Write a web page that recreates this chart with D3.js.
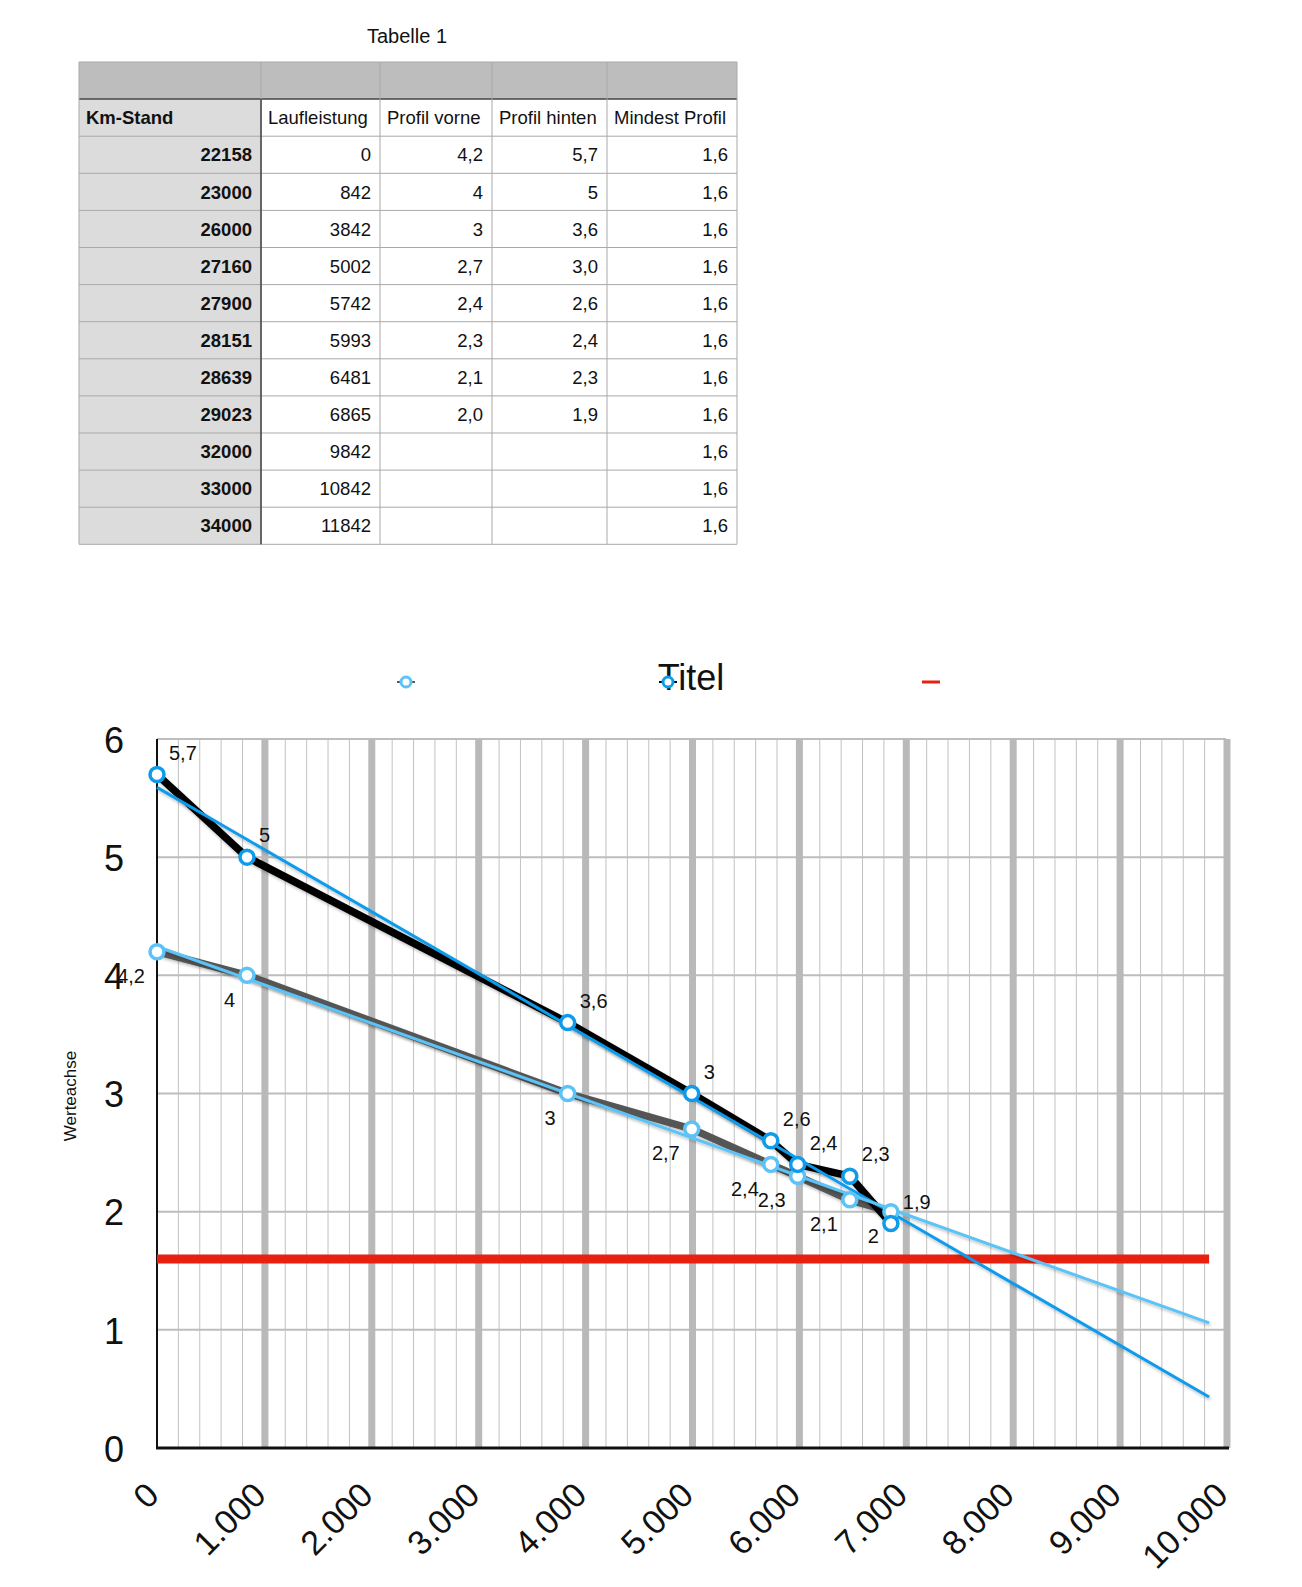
<!DOCTYPE html>
<html>
<head>
<meta charset="utf-8">
<script src="https://cdn.jsdelivr.net/npm/d3@7"></script>
<style>
  body { margin: 0; background: #fff; }
  svg { display: block; font-family: "Liberation Sans", Arial, sans-serif; }
</style>
</head>
<body>
<div id="chart"></div>
<script>
// table columns, as shown in "Tabelle 1"
var kmStand = [22158, 23000, 26000, 27160, 27900, 28151, 28639, 29023, 32000, 33000, 34000];
var laufleistung = [0, 842, 3842, 5002, 5742, 5993, 6481, 6865, 9842, 10842, 11842];
var profilVorne = ["4,2", "4", "3", "2,7", "2,4", "2,3", "2,1", "2,0", "", "", ""];
var profilHinten = ["5,7", "5", "3,6", "3,0", "2,6", "2,4", "2,3", "1,9", "", "", ""];
var mindestProfil = ["1,6", "1,6", "1,6", "1,6", "1,6", "1,6", "1,6", "1,6", "1,6", "1,6", "1,6"];
var headers = ["Km-Stand", "Laufleistung", "Profil vorne", "Profil hinten", "Mindest Profil"];

// axes
var xTicks = [0, 1000, 2000, 3000, 4000, 5000, 6000, 7000, 8000, 9000, 10000];
var yTicks = [0, 1, 2, 3, 4, 5, 6];

var W = 1302, H = 1587;
var svg = d3.select("#chart").append("svg").attr("width", W).attr("height", H);

var de = d3.formatLocale({ decimal: ",", thousands: ".", grouping: [3], currency: ["", "€"] });
var fmtThousand = de.format(",");
function num(s) { return s === "" ? null : +s.replace(",", "."); }
function lbl(v) { return String(v).replace(".", ","); }

// ---------- table ----------
var colX = [79, 261, 380, 492, 607, 737];
var rowTop = 62, rowH = 37.1;
var tbl = svg.append("g");

tbl.append("text").attr("x", 407).attr("y", 43).attr("text-anchor", "middle")
    .attr("font-size", 20).attr("fill", "#111").text("Tabelle 1");

// top grey band
tbl.append("rect").attr("x", colX[0]).attr("y", rowTop).attr("width", colX[5] - colX[0]).attr("height", rowH)
    .attr("fill", "#bdbdbd");
// first column light grey
tbl.append("rect").attr("x", colX[0]).attr("y", rowTop + rowH).attr("width", colX[1] - colX[0])
    .attr("height", rowH * (kmStand.length + 1)).attr("fill", "#dcdcdc");

var nRows = kmStand.length + 2;
for (var r = 0; r <= nRows; r++) {
    tbl.append("line").attr("x1", colX[0]).attr("x2", colX[5])
        .attr("y1", rowTop + r * rowH).attr("y2", rowTop + r * rowH)
        .attr("stroke", r === 1 ? "#444" : "#a9a9a9").attr("stroke-width", r === 1 ? 1.5 : 1);
}
colX.forEach(function (cx) {
    tbl.append("line").attr("x1", cx).attr("x2", cx)
        .attr("y1", rowTop).attr("y2", rowTop + nRows * rowH)
        .attr("stroke", "#a9a9a9").attr("stroke-width", 1);
});
tbl.append("line").attr("x1", colX[1]).attr("x2", colX[1])
    .attr("y1", rowTop + rowH).attr("y2", rowTop + nRows * rowH)
    .attr("stroke", "#444").attr("stroke-width", 1.5);

headers.forEach(function (h, i) {
    tbl.append("text").attr("x", colX[i] + 7).attr("y", rowTop + rowH * 1.5).attr("dy", "0.36em")
        .attr("font-size", 18.5).attr("font-weight", i === 0 ? "bold" : "normal").attr("fill", "#111").text(h);
});

var cols = [kmStand, laufleistung, profilVorne, profilHinten, mindestProfil];
kmStand.forEach(function (k, r) {
    cols.forEach(function (c, i) {
        tbl.append("text").attr("x", colX[i + 1] - 9).attr("y", rowTop + rowH * (r + 2.5)).attr("dy", "0.36em")
            .attr("text-anchor", "end").attr("font-size", 18.5)
            .attr("font-weight", i === 0 ? "bold" : "normal").attr("fill", "#111")
            .text(c[r]);
    });
});

// ---------- chart ----------
var x = d3.scaleLinear().domain([0, 10000]).range([157, 1226]);
var y = d3.scaleLinear().domain([0, 6]).range([1448, 739]);

var defs = svg.append("defs");
defs.append("filter").attr("id", "shadow").attr("x", "-5%").attr("y", "-5%").attr("width", "110%").attr("height", "110%")
    .append("feDropShadow").attr("dx", 1).attr("dy", 2).attr("stdDeviation", 1.5)
    .attr("flood-color", "#000").attr("flood-opacity", 0.25);

var chart = svg.append("g");

// grid
var minor = d3.range(0, 10001, 200);
chart.selectAll(".minor").data(minor.filter(function (d) { return d % 1000 !== 0; }))
    .enter().append("line")
    .attr("x1", function (d) { return x(d); }).attr("x2", function (d) { return x(d); })
    .attr("y1", y(6)).attr("y2", y(0)).attr("stroke", "#c2c2c2").attr("stroke-width", 1);
chart.selectAll(".hgrid").data(yTicks.filter(function (d) { return d > 0; }))
    .enter().append("line")
    .attr("x1", x(0)).attr("x2", x(10000))
    .attr("y1", function (d) { return y(d); }).attr("y2", function (d) { return y(d); })
    .attr("stroke", "#bdbdbd").attr("stroke-width", 2);
chart.selectAll(".major").data(xTicks.filter(function (d) { return d > 0; }))
    .enter().append("line")
    .attr("x1", function (d) { return x(d) + 1; }).attr("x2", function (d) { return x(d) + 1; })
    .attr("y1", y(6)).attr("y2", y(0)).attr("stroke", "#b9b9b9").attr("stroke-width", 7);

// axis lines
chart.append("line").attr("x1", x(0)).attr("x2", x(0)).attr("y1", y(6)).attr("y2", y(0))
    .attr("stroke", "#111").attr("stroke-width", 2);
chart.append("line").attr("x1", x(0) - 1).attr("x2", x(10000) + 3).attr("y1", y(0)).attr("y2", y(0))
    .attr("stroke", "#111").attr("stroke-width", 3);

// tick labels
chart.selectAll(".ylab").data(yTicks).enter().append("text")
    .attr("x", 124).attr("y", function (d) { return y(d); }).attr("dy", "0.38em")
    .attr("text-anchor", "end").attr("font-size", 36).attr("fill", "#111").text(function (d) { return d; });
chart.selectAll(".xlab").data(xTicks).enter().append("text")
    .attr("text-anchor", "end").attr("font-size", 34).attr("fill", "#111")
    .attr("transform", function (d) { return "translate(" + (x(d) + 4) + ",1497) rotate(-45)"; })
    .text(function (d) { return fmtThousand(d); });

chart.append("text").attr("transform", "translate(76,1096) rotate(-90)").attr("text-anchor", "middle")
    .attr("font-size", 17).attr("fill", "#111").text("Werteachse");

// data in chart range
var rows = laufleistung.map(function (l, i) {
    return { x: l, vorne: num(profilVorne[i]), hinten: num(profilHinten[i]), min: num(mindestProfil[i]) };
}).filter(function (d) { return d.x <= 10000; });
var xMax = d3.max(rows, function (d) { return d.x; });

function regression(key) {
    var pts = rows.filter(function (d) { return d[key] !== null; });
    var mx = d3.mean(pts, function (d) { return d.x; }), my = d3.mean(pts, function (d) { return d[key]; });
    var sxy = d3.sum(pts, function (d) { return (d.x - mx) * (d[key] - my); });
    var sxx = d3.sum(pts, function (d) { return (d.x - mx) * (d.x - mx); });
    var b = sxy / sxx, a = my - b * mx;
    return [{ x: 0, v: a }, { x: xMax, v: a + b * xMax }];
}

var line = function (key) {
    return d3.line().defined(function (d) { return d[key] !== null; })
        .x(function (d) { return x(d.x); }).y(function (d) { return y(d[key]); });
};
var trendLine = d3.line().x(function (d) { return x(d.x); }).y(function (d) { return y(d.v); });

var cBlue = "#0f9bec", cLight = "#5bc3f7";

chart.append("path").datum(rows).attr("d", line("min")).attr("fill", "none")
    .attr("stroke", "#e8200f").attr("stroke-width", 9);
chart.append("path").datum(rows).attr("d", line("vorne")).attr("fill", "none")
    .attr("stroke", "#555").attr("stroke-width", 7.5).attr("filter", "url(#shadow)");
chart.append("path").datum(rows).attr("d", line("hinten")).attr("fill", "none")
    .attr("stroke", "#000").attr("stroke-width", 7.5).attr("stroke-linejoin", "round").attr("filter", "url(#shadow)");
chart.append("path").datum(regression("hinten")).attr("d", trendLine).attr("fill", "none")
    .attr("stroke", cBlue).attr("stroke-width", 3).attr("filter", "url(#shadow)");
chart.append("path").datum(regression("vorne")).attr("d", trendLine).attr("fill", "none")
    .attr("stroke", cLight).attr("stroke-width", 3).attr("filter", "url(#shadow)");

var vPts = rows.filter(function (d) { return d.vorne !== null; });
var hPts = rows.filter(function (d) { return d.hinten !== null; });

chart.selectAll(".mv").data(vPts).enter().append("circle")
    .attr("cx", function (d) { return x(d.x); }).attr("cy", function (d) { return y(d.vorne); })
    .attr("r", 7).attr("fill", "#fff").attr("stroke", cLight).attr("stroke-width", 3.5);
chart.selectAll(".mh").data(hPts).enter().append("circle")
    .attr("cx", function (d) { return x(d.x); }).attr("cy", function (d) { return y(d.hinten); })
    .attr("r", 7).attr("fill", "#fff").attr("stroke", cBlue).attr("stroke-width", 3.5);

chart.selectAll(".lh").data(hPts).enter().append("text")
    .attr("x", function (d) { return x(d.x) + 12; }).attr("y", function (d) { return y(d.hinten) - 22; })
    .attr("dy", "0.36em").attr("font-size", 20).attr("fill", "#111").text(function (d) { return lbl(d.hinten); });
chart.selectAll(".lv").data(vPts).enter().append("text")
    .attr("x", function (d) { return x(d.x) - 12; }).attr("y", function (d) { return y(d.vorne) + 24; })
    .attr("dy", "0.36em").attr("text-anchor", "end").attr("font-size", 20).attr("fill", "#111")
    .text(function (d) { return lbl(d.vorne); });

// title and legend (legend entries have no text)
svg.append("text").attr("x", 691).attr("y", 690).attr("text-anchor", "middle")
    .attr("font-size", 36).attr("fill", "#111").text("Titel");

var legend = [
    { x: 406, line: "#555", marker: cLight },
    { x: 668, line: "#000", marker: cBlue },
    { x: 931, line: "#e8200f", marker: null }
];
legend.forEach(function (l) {
    var g = svg.append("g").attr("transform", "translate(" + l.x + ",682)");
    if (l.marker) {
        g.append("line").attr("x1", -9).attr("x2", 9).attr("stroke", l.line).attr("stroke-width", 2);
        g.append("circle").attr("r", 5).attr("fill", "#fff").attr("stroke", l.marker).attr("stroke-width", 3);
    } else {
        g.append("line").attr("x1", -9).attr("x2", 9).attr("stroke", l.line).attr("stroke-width", 3);
    }
});
</script>
</body>
</html>
